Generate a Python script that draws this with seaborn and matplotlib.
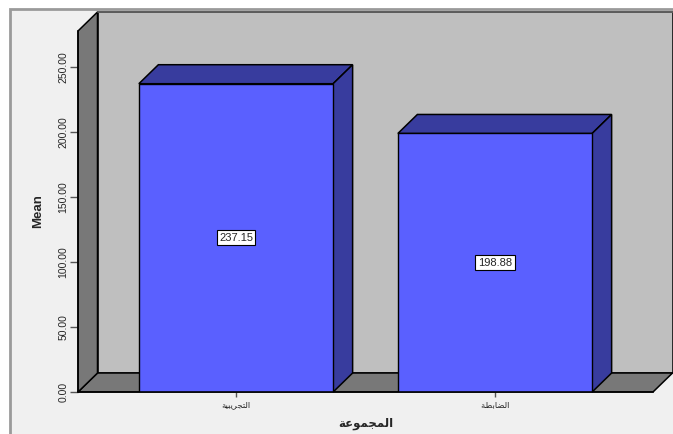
import pandas as pd
import matplotlib
matplotlib.use("Agg")
import matplotlib.pyplot as plt
from matplotlib.patches import Polygon, Rectangle
import seaborn as sns

# arabic in presentation forms, visual order (matplotlib does not shape text)
GROUPS = [
    "\uFE94\uFEF4\uFE92\uFEF3\uFEAE\uFEA0\uFE98\uFEDF\uFE8D",  # التجريبية
    "\uFE94\uFEC2\uFE91\uFE8E\uFEC0\uFEDF\uFE8D",  # الضابطة
]
MEANS = [237.15, 198.88]
Y_TICKS = [0, 50, 100, 150, 200, 250]
X_LABEL = "\uFE94\uFECB\uFEEE\uFEE4\uFEA0\uFEE4\uFEDF\uFE8D"  # المجموعة
Y_LABEL = "Mean"

W, H = 673, 434
FRONT = "#5a60ff"
SHADE = "#383c9e"
WALL = "#bfbfbf"
DARK = "#787878"
PANEL = "#f0f0f0"

sns.set_style("white")
plt.rcParams["font.family"] = ["Liberation Sans", "DejaVu Sans"]

fig = plt.figure(figsize=(W / 100, H / 100), dpi=100, facecolor="white")
# panel runs off the right and bottom edges of the image
fig.add_artist(Rectangle((10 / W, -0.05), 1.0, 1.05 - 9 / H, transform=fig.transFigure,
                         facecolor=PANEL, edgecolor="#9a9a9a", lw=2, zorder=-1))

ax = fig.add_axes([78 / W, (H - 392) / H, 575 / W, 361 / H])
ax.patch.set_visible(False)

df = pd.DataFrame({"group": GROUPS, "mean": MEANS})
sns.barplot(data=df, x="group", y="mean", ax=ax, width=0.75, color=FRONT, saturation=1,
            edgecolor="black", linewidth=1, zorder=5)
ax.set_xlim(-0.61, 1.61)
ax.set_ylim(0, 277.7)

# 3d depth, in data units
dx = 19.5 / 259
dy = 19 / 1.3
x0, x1 = ax.get_xlim()
y1 = ax.get_ylim()[1]


def face(points, color, z):
    ax.add_patch(Polygon(points, closed=True, facecolor=color, edgecolor="black", lw=1.1,
                         zorder=z, clip_on=False))


face([(x0 + dx, dy), (x1 + dx, dy), (x1 + dx, y1 + dy), (x0 + dx, y1 + dy)], WALL, 1)
face([(x0, 0), (x1, 0), (x1 + dx, dy), (x0 + dx, dy)], DARK, 2)
face([(x0, 0), (x0 + dx, dy), (x0 + dx, y1 + dy), (x0, y1)], DARK, 2)
# top edge of the back wall is softer than the others
ax.plot([x0 + dx, x1 + dx], [y1 + dy, y1 + dy], color="#666666", lw=1.2, zorder=3, clip_on=False)

for bar, value in zip(ax.containers[0], MEANS):
    left, right = bar.get_x(), bar.get_x() + bar.get_width()
    face([(left, value), (right, value), (right + dx, value + dy), (left + dx, value + dy)], SHADE, 4)
    face([(right, 0), (right + dx, dy), (right + dx, value + dy), (right, value)], SHADE, 4)
    ax.text((left + right) / 2, value / 2, f"{value:.2f}", ha="center", va="center", fontsize=8,
            zorder=6, bbox=dict(boxstyle="square,pad=0.22", facecolor="white", edgecolor="black", lw=0.8))

ax.set_yticks(Y_TICKS)
ax.set_yticklabels([f"{t:.2f}" for t in Y_TICKS], rotation=90, va="center", fontsize=7.5)
ax.tick_params(axis="y", left=True, length=6, width=1, color="#555555", pad=1)
ax.tick_params(axis="x", bottom=True, length=3.6, width=1, color="#555555", pad=2, labelsize=6)
ax.set_xlabel(X_LABEL, fontsize=8.5, fontweight="bold", family=["DejaVu Sans"], labelpad=6)
ax.set_ylabel(Y_LABEL, fontsize=9.5, fontweight="bold", labelpad=10, y=0.5)
for label in ax.get_xticklabels():
    label.set_family(["DejaVu Sans"])

sns.despine(ax=ax, top=True, right=True)
for side in ["left", "bottom"]:
    ax.spines[side].set_color("black")
    ax.spines[side].set_linewidth(1.1)
    ax.spines[side].set_zorder(7)

fig.savefig("out.png", dpi=100)
